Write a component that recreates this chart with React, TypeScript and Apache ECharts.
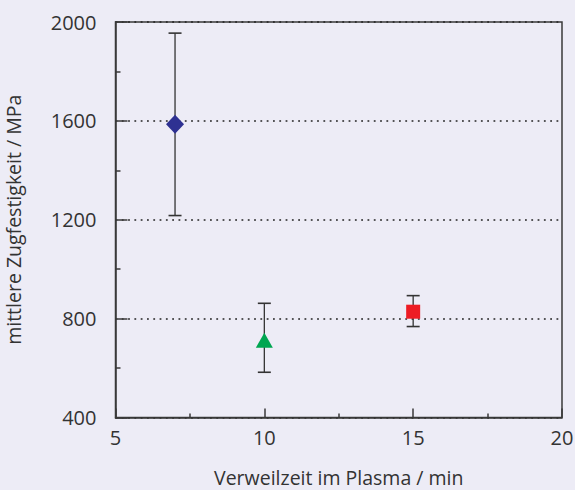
import React, { useEffect, useRef } from "react";
import * as echarts from "echarts";

const xValues = [7, 10, 15];
const meanValues = [1586, 713, 828];
const lowerValues = [1217, 583, 768];
const upperValues = [1955, 862, 893];
const symbols = ["diamond", "triangle", "rect"];
const symbolSizes: (number | number[])[] = [[18, 19], [17, 15], [14, 14]];
const colors = ["#2e3192", "#00a651", "#ed1c24"];
const yTicks = [400, 800, 1200, 1600, 2000];
const xTicks = [5, 10, 15, 20];

const FONT = "'Open Sans', 'Noto Sans', sans-serif";
const AXIS_COLOR = "#3a3a3a";

export default function App() {
  const ref = useRef<HTMLDivElement>(null);
  useEffect(() => {
    if (!ref.current) return;
    const chart = echarts.init(ref.current, undefined, { renderer: "svg" });
    const errData = xValues.map((x, i) => [x, lowerValues[i], upperValues[i]]);
    const pointSeries = xValues.map((x, i) => ({
      type: "scatter",
      data: [[x, meanValues[i]]],
      symbol: symbols[i],
      symbolSize: symbolSizes[i],
      itemStyle: { color: colors[i], opacity: 1 },
      z: 5,
    }));
    chart.setOption({
      animation: false,
      backgroundColor: "#edecf6",
      textStyle: { fontFamily: FONT },
      grid: {
        left: 115.5,
        right: 13,
        top: 22,
        bottom: 72.5,
        outerBoundsMode: "none",
        containLabel: false,
        show: true,
        borderColor: AXIS_COLOR,
        borderWidth: 1.5,
        backgroundColor: "transparent",
      },
      xAxis: {
        type: "value",
        min: xTicks[0],
        max: xTicks[xTicks.length - 1],
        interval: 5,
        name: "Verweilzeit im Plasma / min",
        nameLocation: "middle",
        nameGap: 50,
        nameTextStyle: { fontSize: 19.5, color: "#333", fontFamily: FONT },
        axisLine: { show: true, lineStyle: { color: AXIS_COLOR, width: 1.5 } },
        axisTick: { show: true, inside: true, length: 9, lineStyle: { color: AXIS_COLOR, width: 1.5 } },
        minorTick: { show: true, splitNumber: 2, length: 4, lineStyle: { color: AXIS_COLOR, width: 1.5 } },
        axisLabel: { fontSize: 20, color: "#333", margin: 10, fontFamily: FONT, formatter: (v: number) => String(v) },
        splitLine: { show: false },
      },
      yAxis: {
        type: "value",
        min: yTicks[0],
        max: yTicks[yTicks.length - 1],
        interval: 400,
        name: "mittlere Zugfestigkeit / MPa",
        nameLocation: "middle",
        nameGap: 92,
        nameTextStyle: { fontSize: 19.5, color: "#333", fontFamily: FONT },
        axisLine: { show: true, lineStyle: { color: AXIS_COLOR, width: 1.5 } },
        axisTick: { show: true, inside: true, length: 12, lineStyle: { color: AXIS_COLOR, width: 1.5 } },
        minorTick: { show: true, splitNumber: 2, length: 5, lineStyle: { color: AXIS_COLOR, width: 1.5 } },
        axisLabel: { fontSize: 20, color: "#333", margin: 19, fontFamily: FONT, formatter: (v: number) => String(v) },
        splitLine: { show: true, lineStyle: { color: "#222", width: 1.5, type: [1.8, 4.5] } },
      },
      series: [
        {
          type: "custom",
          data: errData,
          z: 3,
          renderItem: (params: any, api: any) => {
            const x = api.value(0);
            const lo = api.coord([x, api.value(1)]);
            const hi = api.coord([x, api.value(2)]);
            const hw = 6.5;
            const style = { stroke: "#333", lineWidth: 1.3 };
            return {
              type: "group",
              children: [
                { type: "line", shape: { x1: hi[0], y1: hi[1], x2: lo[0], y2: lo[1] }, style },
                { type: "line", shape: { x1: hi[0] - hw, y1: hi[1], x2: hi[0] + hw, y2: hi[1] }, style: { ...style, lineWidth: 1.6 } },
                { type: "line", shape: { x1: lo[0] - hw, y1: lo[1], x2: lo[0] + hw, y2: lo[1] }, style: { ...style, lineWidth: 1.6 } },
              ],
            };
          },
        },
        ...pointSeries,
      ],
    });
    return () => chart.dispose();
  }, []);
  return (
    <div
      ref={ref}
      style={{ position: "absolute", left: 0, top: 0, width: 575, height: 490 }}
    />
  );
}
